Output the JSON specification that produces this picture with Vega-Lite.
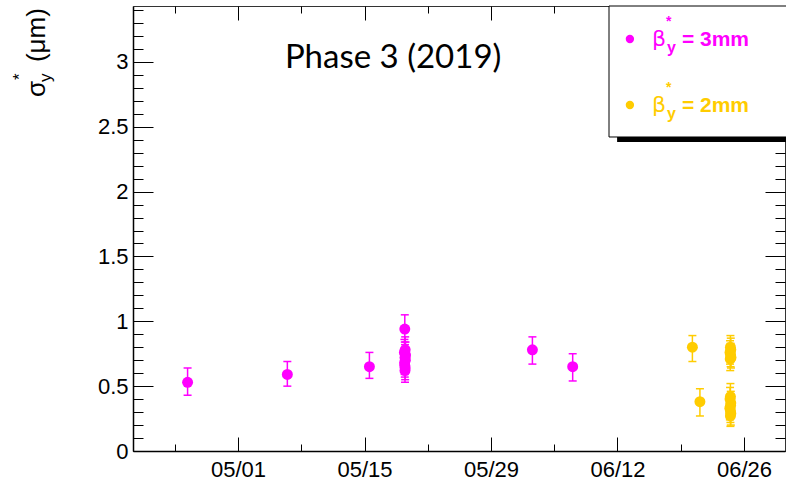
{
  "$schema": "https://vega.github.io/schema/vega-lite/v6.json",
  "width": 652,
  "height": 445,
  "autosize": {"type": "none"},
  "padding": {"left": 133, "top": 6, "right": 1, "bottom": 31},
  "background": "white",
  "config": {"view": {"stroke": "#333333", "strokeWidth": 1}, "font": "Liberation Sans"},
  "data": {"values": [{}]},
  "datasets": {
    "pts": [
      {"date": "2019-04-25T10:00", "v": 0.53, "lo": 0.43, "hi": 0.64, "beam": "3mm"},
      {"date": "2019-05-06T11:00", "v": 0.59, "lo": 0.50, "hi": 0.69, "beam": "3mm"},
      {"date": "2019-05-15T13:00", "v": 0.65, "lo": 0.56, "hi": 0.76, "beam": "3mm"},
      {"date": "2019-05-19T11:00", "v": 0.94, "lo": 0.84, "hi": 1.05, "beam": "3mm"},
      {"date": "2019-05-19T12:00", "v": 0.78, "lo": 0.69, "hi": 0.88, "beam": "3mm"},
      {"date": "2019-05-19T10:00", "v": 0.76, "lo": 0.67, "hi": 0.86, "beam": "3mm"},
      {"date": "2019-05-19T13:00", "v": 0.74, "lo": 0.65, "hi": 0.84, "beam": "3mm"},
      {"date": "2019-05-19T11:30", "v": 0.72, "lo": 0.63, "hi": 0.82, "beam": "3mm"},
      {"date": "2019-05-19T12:30", "v": 0.70, "lo": 0.61, "hi": 0.80, "beam": "3mm"},
      {"date": "2019-05-19T10:30", "v": 0.68, "lo": 0.59, "hi": 0.78, "beam": "3mm"},
      {"date": "2019-05-19T11:00", "v": 0.66, "lo": 0.57, "hi": 0.76, "beam": "3mm"},
      {"date": "2019-05-19T12:00", "v": 0.64, "lo": 0.55, "hi": 0.74, "beam": "3mm"},
      {"date": "2019-05-19T11:30", "v": 0.62, "lo": 0.53, "hi": 0.71, "beam": "3mm"},
      {"date": "2019-06-02T14:00", "v": 0.78, "lo": 0.67, "hi": 0.88, "beam": "3mm"},
      {"date": "2019-06-07T01:00", "v": 0.65, "lo": 0.54, "hi": 0.75, "beam": "3mm"},
      {"date": "2019-06-20T07:00", "v": 0.80, "lo": 0.69, "hi": 0.89, "beam": "2mm"},
      {"date": "2019-06-21T03:00", "v": 0.38, "lo": 0.27, "hi": 0.48, "beam": "2mm"},
      {"date": "2019-06-24T12:00", "v": 0.80, "lo": 0.71, "hi": 0.89, "beam": "2mm"},
      {"date": "2019-06-24T13:00", "v": 0.78, "lo": 0.69, "hi": 0.87, "beam": "2mm"},
      {"date": "2019-06-24T11:00", "v": 0.76, "lo": 0.67, "hi": 0.85, "beam": "2mm"},
      {"date": "2019-06-24T12:30", "v": 0.74, "lo": 0.65, "hi": 0.83, "beam": "2mm"},
      {"date": "2019-06-24T13:30", "v": 0.72, "lo": 0.64, "hi": 0.81, "beam": "2mm"},
      {"date": "2019-06-24T11:30", "v": 0.71, "lo": 0.62, "hi": 0.80, "beam": "2mm"},
      {"date": "2019-06-24T12:00", "v": 0.42, "lo": 0.33, "hi": 0.52, "beam": "2mm"},
      {"date": "2019-06-24T11:00", "v": 0.40, "lo": 0.31, "hi": 0.49, "beam": "2mm"},
      {"date": "2019-06-24T13:00", "v": 0.37, "lo": 0.28, "hi": 0.46, "beam": "2mm"},
      {"date": "2019-06-24T12:30", "v": 0.35, "lo": 0.26, "hi": 0.44, "beam": "2mm"},
      {"date": "2019-06-24T10:30", "v": 0.33, "lo": 0.24, "hi": 0.42, "beam": "2mm"},
      {"date": "2019-06-24T12:00", "v": 0.31, "lo": 0.22, "hi": 0.40, "beam": "2mm"},
      {"date": "2019-06-24T13:00", "v": 0.29, "lo": 0.20, "hi": 0.38, "beam": "2mm"},
      {"date": "2019-06-24T12:00", "v": 0.27, "lo": 0.19, "hi": 0.36, "beam": "2mm"}
    ]
  },
  "resolve": {"axis": {"x": "independent", "y": "independent"}},
  "layer": [
    {
      "data": {"name": "pts"},
      "mark": {"type": "rule", "strokeWidth": 1.5},
      "encoding": {
        "x": {
          "field": "date", "type": "temporal",
          "scale": {"type": "time", "domain": [{"year": 2019, "month": 4, "date": 19, "hours": 9}, {"year": 2019, "month": 6, "date": 30, "hours": 13}]},
          "axis": {
            "orient": "top", "title": null, "labels": false, "domain": false, "grid": false,
            "values": [{"year": 2019, "month": 4, "date": 24}, {"year": 2019, "month": 5, "date": 1}, {"year": 2019, "month": 5, "date": 8}, {"year": 2019, "month": 5, "date": 15}, {"year": 2019, "month": 5, "date": 22}, {"year": 2019, "month": 5, "date": 29}, {"year": 2019, "month": 6, "date": 5}, {"year": 2019, "month": 6, "date": 12}, {"year": 2019, "month": 6, "date": 19}, {"year": 2019, "month": 6, "date": 26}],
            "tickColor": "black", "tickWidth": 1,
            "tickSize": {"condition": {"test": "indexof(['05/01','05/15','05/29','06/12','06/26'], timeFormat(datum.value, '%m/%d')) >= 0", "value": -14}, "value": -7}
          }
        },
        "y": {
          "field": "lo", "type": "quantitative",
          "scale": {"domain": [0, 3.431], "nice": false, "zero": false},
          "axis": {
            "orient": "right", "title": null, "labels": false, "domain": false, "grid": false,
            "values": [0,0.1,0.2,0.3,0.4,0.5,0.6,0.7,0.8,0.9,1,1.1,1.2,1.3,1.4,1.5,1.6,1.7,1.8,1.9,2,2.1,2.2,2.3,2.4,2.5,2.6,2.7,2.8,2.9,3,3.1,3.2,3.3,3.4],
            "tickColor": "black", "tickWidth": 1,
            "tickSize": {"condition": {"test": "abs(datum.value*2 - round(datum.value*2)) < 0.001", "value": -20}, "value": -10}
          }
        },
        "y2": {"field": "hi"},
        "color": {"field": "beam", "type": "nominal", "scale": {"domain": ["3mm", "2mm"], "range": ["#ff00ff", "#ffcc00"]}, "legend": null}
      }
    },
    {
      "data": {"name": "pts"},
      "mark": {"type": "tick", "orient": "horizontal", "size": 8, "thickness": 1.5, "opacity": 1},
      "encoding": {
        "x": {"field": "date", "type": "temporal", "axis": null},
        "y": {"field": "lo", "type": "quantitative", "axis": null},
        "color": {"field": "beam", "type": "nominal", "legend": null}
      }
    },
    {
      "data": {"name": "pts"},
      "mark": {"type": "tick", "orient": "horizontal", "size": 8, "thickness": 1.5, "opacity": 1},
      "encoding": {
        "x": {"field": "date", "type": "temporal", "axis": null},
        "y": {"field": "hi", "type": "quantitative", "axis": null},
        "color": {"field": "beam", "type": "nominal", "legend": null}
      }
    },
    {
      "data": {"name": "pts"},
      "mark": {"type": "circle", "size": 120, "opacity": 1},
      "encoding": {
        "x": {
          "field": "date", "type": "temporal",
          "axis": {
            "orient": "bottom", "title": null, "grid": false,
            "values": [{"year": 2019, "month": 4, "date": 24}, {"year": 2019, "month": 5, "date": 1}, {"year": 2019, "month": 5, "date": 8}, {"year": 2019, "month": 5, "date": 15}, {"year": 2019, "month": 5, "date": 22}, {"year": 2019, "month": 5, "date": 29}, {"year": 2019, "month": 6, "date": 5}, {"year": 2019, "month": 6, "date": 12}, {"year": 2019, "month": 6, "date": 19}, {"year": 2019, "month": 6, "date": 26}],
            "labelExpr": "indexof(['05/01','05/15','05/29','06/12','06/26'], timeFormat(datum.value, '%m/%d')) >= 0 ? timeFormat(datum.value, '%m/%d') : ''",
            "labelFont": "Liberation Sans", "labelFontSize": 22, "labelColor": "black",
            "labelPadding": 22, "labelFlush": false, "labelOverlap": false,
            "domain": true, "domainColor": "black", "domainWidth": 1.5,
            "tickColor": "black", "tickWidth": 1,
            "tickSize": {"condition": {"test": "indexof(['05/01','05/15','05/29','06/12','06/26'], timeFormat(datum.value, '%m/%d')) >= 0", "value": -14}, "value": -7}
          }
        },
        "y": {
          "field": "v", "type": "quantitative",
          "axis": {
            "orient": "left", "title": null, "grid": false,
            "values": [0,0.1,0.2,0.3,0.4,0.5,0.6,0.7,0.8,0.9,1,1.1,1.2,1.3,1.4,1.5,1.6,1.7,1.8,1.9,2,2.1,2.2,2.3,2.4,2.5,2.6,2.7,2.8,2.9,3,3.1,3.2,3.3,3.4],
            "labelExpr": "abs(datum.value*2 - round(datum.value*2)) < 0.001 ? format(datum.value, '~g') : ''",
            "labelFont": "Liberation Sans", "labelFontSize": 22, "labelColor": "black",
            "labelPadding": 25, "labelFlush": false, "labelOverlap": false,
            "domain": true, "domainColor": "black", "domainWidth": 1.5,
            "tickColor": "black", "tickWidth": 1,
            "tickSize": {"condition": {"test": "abs(datum.value*2 - round(datum.value*2)) < 0.001", "value": -20}, "value": -10}
          }
        },
        "color": {"field": "beam", "type": "nominal", "legend": null}
      }
    },
    {
      "mark": {"type": "rect", "fill": "black"},
      "encoding": {
        "x": {"datum": {"year": 2019, "month": 6, "date": 11, "hours": 23}, "type": "temporal", "axis": null},
        "x2": {"datum": {"year": 2019, "month": 7, "date": 3}},
        "y": {"datum": 2.382, "type": "quantitative", "axis": null},
        "y2": {"datum": 2.421}
      }
    },
    {
      "mark": {"type": "rect", "fill": "white", "stroke": "black", "strokeWidth": 1},
      "encoding": {
        "x": {"datum": {"year": 2019, "month": 6, "date": 11, "hours": 1, "minutes": 30}, "type": "temporal", "axis": null},
        "x2": {"datum": {"year": 2019, "month": 7, "date": 3}},
        "y": {"datum": 2.421, "type": "quantitative", "axis": null},
        "y2": {"datum": 3.431}
      }
    },
    {
      "encoding": {
        "x": {"datum": {"year": 2019, "month": 6, "date": 13, "hours": 9}, "type": "temporal", "axis": null},
        "y": {"datum": 3.177, "type": "quantitative", "axis": null}
      },
      "layer": [
        {"mark": {"type": "point", "filled": true, "size": 70, "opacity": 1, "color": "#ff00ff"}},
        {"mark": {"type": "text", "text": "β", "align": "left", "baseline": "middle", "dx": 22, "dy": 0, "fontSize": 22, "font": "DejaVu Sans", "color": "#ff00ff"}},
        {"mark": {"type": "text", "text": "*", "align": "left", "baseline": "middle", "dx": 36, "dy": -17, "fontSize": 14, "fontWeight": "bold", "color": "#ff00ff"}},
        {"mark": {"type": "text", "text": "y", "align": "left", "baseline": "middle", "dx": 37, "dy": 9, "fontSize": 16, "fontWeight": "bold", "color": "#ff00ff"}},
        {"mark": {"type": "text", "text": "= 3mm", "align": "left", "baseline": "middle", "dx": 52, "dy": 1, "fontSize": 21, "fontWeight": "bold", "color": "#ff00ff"}}
      ]
    },
    {
      "encoding": {
        "x": {"datum": {"year": 2019, "month": 6, "date": 13, "hours": 9}, "type": "temporal", "axis": null},
        "y": {"datum": 2.668, "type": "quantitative", "axis": null}
      },
      "layer": [
        {"mark": {"type": "point", "filled": true, "size": 70, "opacity": 1, "color": "#ffcc00"}},
        {"mark": {"type": "text", "text": "β", "align": "left", "baseline": "middle", "dx": 22, "dy": 0, "fontSize": 22, "font": "DejaVu Sans", "color": "#ffcc00"}},
        {"mark": {"type": "text", "text": "*", "align": "left", "baseline": "middle", "dx": 36, "dy": -17, "fontSize": 14, "fontWeight": "bold", "color": "#ffcc00"}},
        {"mark": {"type": "text", "text": "y", "align": "left", "baseline": "middle", "dx": 37, "dy": 9, "fontSize": 16, "fontWeight": "bold", "color": "#ffcc00"}},
        {"mark": {"type": "text", "text": "= 2mm", "align": "left", "baseline": "middle", "dx": 52, "dy": 1, "fontSize": 21, "fontWeight": "bold", "color": "#ffcc00"}}
      ]
    },
    {
      "mark": {"type": "text", "text": "Phase 3 (2019)", "align": "center", "baseline": "middle", "font": "Lato", "fontSize": 33, "color": "black"},
      "encoding": {
        "x": {"datum": {"year": 2019, "month": 5, "date": 18, "hours": 4}, "type": "temporal", "axis": null},
        "y": {"datum": 3.03, "type": "quantitative", "axis": null}
      }
    },
    {
      "encoding": {
        "x": {"datum": {"year": 2019, "month": 4, "date": 9, "hours": 15, "minutes": 20}, "type": "temporal", "axis": null},
        "y": {"datum": 2.729, "type": "quantitative", "axis": null}
      },
      "layer": [
        {"mark": {"type": "text", "text": "σ", "angle": 270, "align": "left", "baseline": "alphabetic", "dx": 0, "dy": 0, "fontSize": 26, "font": "Liberation Sans", "color": "black"}},
        {"mark": {"type": "text", "text": "y", "angle": 270, "align": "left", "baseline": "alphabetic", "dx": 15, "dy": 6, "fontSize": 17, "font": "Liberation Sans", "color": "black"}},
        {"mark": {"type": "text", "text": "*", "angle": 270, "align": "left", "baseline": "alphabetic", "dx": 17, "dy": -20, "fontSize": 17, "font": "Liberation Sans", "color": "black"}},
        {"mark": {"type": "text", "text": "(μm)", "angle": 270, "align": "left", "baseline": "alphabetic", "dx": 35, "dy": 0, "fontSize": 26, "font": "Liberation Sans", "color": "black"}}
      ]
    }
  ]
}
